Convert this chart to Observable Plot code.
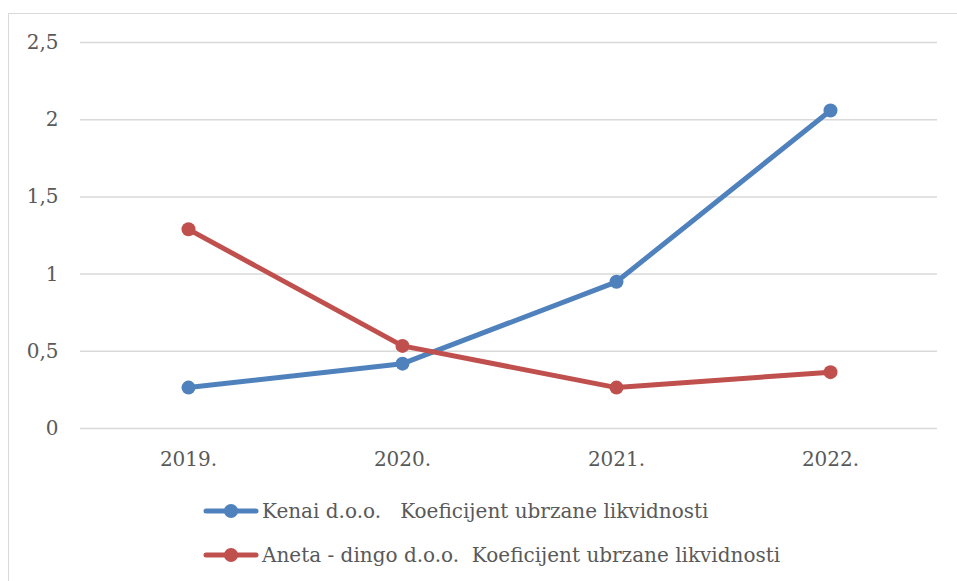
<!DOCTYPE html>
<html>
<head>
<meta charset="utf-8">
<script src="https://cdn.jsdelivr.net/npm/d3@7"></script>
<script src="https://cdn.jsdelivr.net/npm/@observablehq/plot@0.6"></script>
<style>
  html, body { margin: 0; padding: 0; background: #fff; width: 957px; height: 581px; overflow: hidden; }
  #frame { position: absolute; left: 8px; top: 13px; width: 980px; height: 600px; border: 1.5px solid #d9d9d9; box-sizing: border-box; }
  #chart { position: absolute; left: 0; top: 0; }
  #legend { position: absolute; left: 203px; top: 494px; font-family: "DejaVu Serif", serif; font-size: 20px; color: #595959; }
  .item { display: flex; align-items: center; height: 34px; margin-bottom: 10px; white-space: pre; }
  .item svg { margin-right: 3px; }
</style>
</head>
<body>
<div id="frame"></div>
<div id="chart"></div>
<div id="legend"></div>
<script>
const years = ["2019.", "2020.", "2021.", "2022."];
const seriesNames = ["Kenai d.o.o.   Koeficijent ubrzane likvidnosti", "Aneta - dingo d.o.o.  Koeficijent ubrzane likvidnosti"];
const kenai = [0.265, 0.42, 0.95, 2.06];
const aneta = [1.29, 0.535, 0.265, 0.365];
const yTicks = [0, 0.5, 1, 1.5, 2, 2.5];
const colors = ["#4f81bd", "#c0504d"];

const data = [];
years.forEach((y, i) => data.push({year: y, value: kenai[i], series: seriesNames[0]}));
years.forEach((y, i) => data.push({year: y, value: aneta[i], series: seriesNames[1]}));

const fmt = d => String(d).replace(".", ",");

const plot = Plot.plot({
  width: 957,
  height: 485,
  marginLeft: 80,
  marginRight: 20,
  marginTop: 42,
  marginBottom: 57,
  style: {fontFamily: "DejaVu Serif, serif", fontSize: "20px", color: "#595959", background: "transparent", overflow: "visible"},
  x: {type: "point", domain: years, padding: 0.5},
  y: {domain: [0, 2.5]},
  color: {domain: seriesNames, range: colors},
  marks: [
    Plot.ruleY(yTicks, {stroke: "#d9d9d9", strokeWidth: 1.5}),
    Plot.axisY({ticks: yTicks, tickSize: 0, tickPadding: 22, tickFormat: fmt, fill: "#595959", label: null}),
    Plot.axisX({tickSize: 0, tickPadding: 23, fill: "#595959", label: null}),
    Plot.line(data, {x: "year", y: "value", z: "series", stroke: "series", strokeWidth: 5, strokeLinecap: "round", strokeLinejoin: "round"}),
    Plot.dot(data, {x: "year", y: "value", fill: "series", r: 7, stroke: null})
  ]
});
document.getElementById("chart").appendChild(plot);

const legend = document.getElementById("legend");
seriesNames.forEach((name, i) => {
  const item = document.createElement("div");
  item.className = "item";
  item.innerHTML = `<svg width="56" height="16"><line x1="3" y1="8" x2="53" y2="8" stroke="${colors[i]}" stroke-width="5" stroke-linecap="round"/><circle cx="28" cy="8" r="7" fill="${colors[i]}"/></svg><span>${name}</span>`;
  legend.appendChild(item);
});
</script>
</body>
</html>
